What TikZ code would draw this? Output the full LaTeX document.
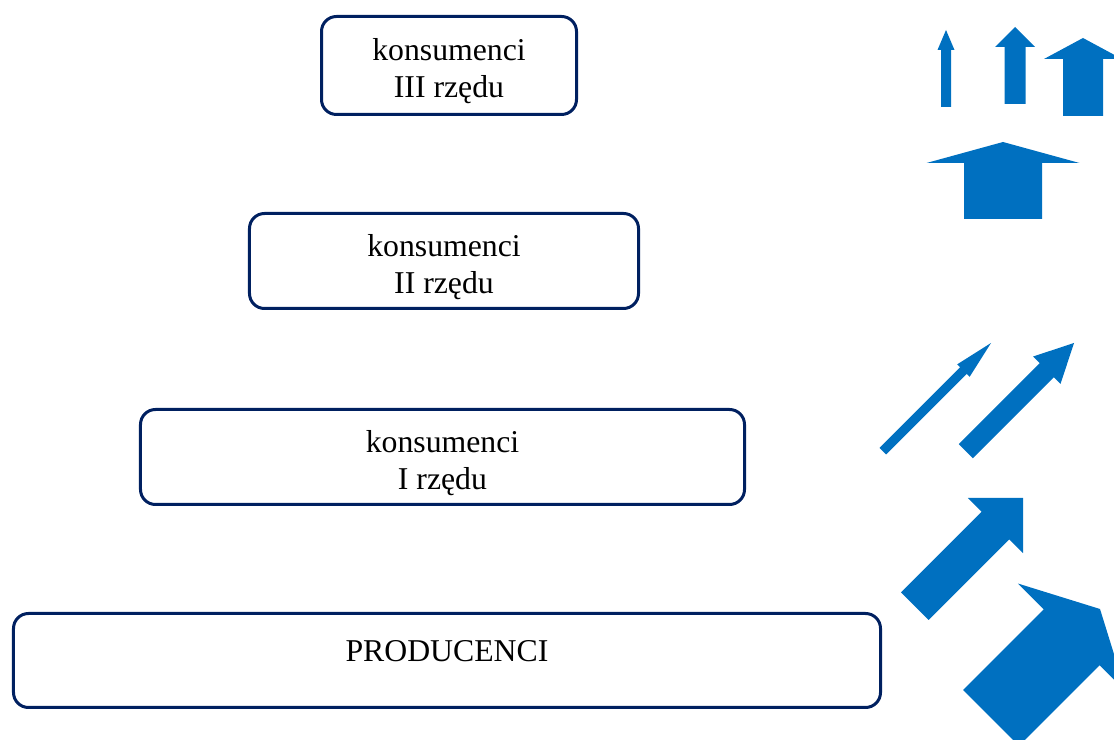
\documentclass[tikz,border=0pt]{standalone}
\usepackage{fontspec}
\setmainfont{Liberation Serif}
\usetikzlibrary{calc}
\definecolor{granat}{RGB}{0,32,96}
\definecolor{niebieski}{RGB}{0,112,192}
\tikzset{%
    poziom/.style={draw=granat, line width=1.2pt, rounded corners=6pt, fill=white, align=center, inner sep=0pt},
    strz/.style={fill=niebieski},
}
\newcommand{\odstep}{\rule{0pt}{13.6pt}}
% tip x, tip y, angle, length, shaft half width, head half width, head length
\newcommand{\strzalka}[7]{%
    \fill[strz, shift={(#1,#2)}, rotate=#3] (0,0) -- (-#7,#6) -- (-#7,#5) -- (-#4,#5) -- (-#4,-#5) -- (-#7,-#5) -- (-#7,-#6) -- cycle;}
\begin{document}
\begin{tikzpicture}[x=0.4pt, y=0.4pt, font=\fontsize{12.7}{14.8}\selectfont]
    \useasboundingbox (0,0) rectangle (1114,740);
    \clip (0,0) rectangle (1114,740);
    \node [poziom, minimum width=102pt, minimum height=39.2pt] (k3) at (449,674.5) {\odstep konsumenci\\III rzędu};
    \node [poziom, minimum width=155.6pt, minimum height=38pt] (k2) at (444,479) {\odstep konsumenci\\II rzędu};
    \node [poziom, minimum width=241.6pt, minimum height=38pt] (k1) at (442.5,283) {\odstep konsumenci\\I rzędu};
    \node [poziom, minimum width=346.8pt, minimum height=37.6pt, text depth=7.6pt] (prod) at (447,79.5) {PRODUCENCI};
    \strzalka{946}{710}{90}{77}{5}{8.5}{20}
    \strzalka{1015}{713}{90}{77}{10.5}{20}{20}
    \strzalka{1083}{702}{90}{78}{20}{39}{21}
    \strzalka{1003}{598}{90}{77}{39}{76.5}{21}
    \strzalka{991}{397}{45}{153}{4.6}{8.8}{39}
    \strzalka{1074}{397}{45}{153}{10}{19.4}{38.5}
    \strzalka{1023}{242}{45}{153}{19.5}{39}{39}
    \strzalka{1100}{131}{45}{154}{39.5}{76}{40}
\end{tikzpicture}
\end{document}
